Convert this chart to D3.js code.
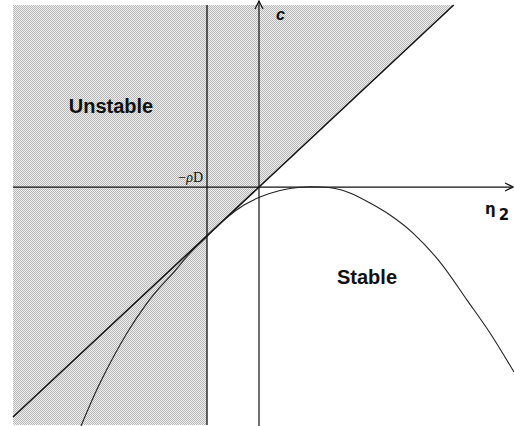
<!DOCTYPE html>
<html>
<head>
<meta charset="utf-8">
<script src="https://cdn.jsdelivr.net/npm/d3@7"></script>
<style>
  html, body { margin: 0; padding: 0; background: #fff; }
  svg { display: block; }
</style>
</head>
<body>
<script>
// Stability boundary in the (eta2, c) plane
const curveEta = [-1.78, -1.59, -1.32, -1.12, -0.99, -0.86, -0.69, -0.52, -0.32, -0.15, 0.01, 0.21, 0.41, 0.61, 0.76, 0.91, 1.11, 1.31, 1.54, 1.81, 2.08, 2.31, 2.55];
const curveC   = [-2.556, -2.096, -1.561, -1.241, -1.070, -0.920, -0.706, -0.529, -0.326, -0.193, -0.107, -0.037, -0.002, 0.0, -0.016, -0.064, -0.171, -0.299, -0.492, -0.802, -1.209, -1.561, -1.979];
// neutral line c = eta2
const lineEta = [-2.46, 1.947];
const lineC   = [-2.46, 1.947];
// vertical line at eta2 = -rhoD
const rhoD = 0.52;
const regionLabels = ["Unstable", "Stable"];

const W = 514, H = 426;
const x = d3.scaleLinear().domain([-2.46, 2.55]).range([13, 514]);
const y = d3.scaleLinear().domain([1.947, -2.545]).range([5, 425]);

const svg = d3.select("body").append("svg").attr("width", W).attr("height", H);

// halftone-like fill
const defs = svg.append("defs");
const pat = defs.append("pattern").attr("id", "dots")
  .attr("width", 2).attr("height", 2).attr("patternUnits", "userSpaceOnUse");
pat.append("rect").attr("width", 2).attr("height", 2).attr("fill", "#f0f0f0");
pat.append("rect").attr("x", 0).attr("y", 0).attr("width", 1).attr("height", 1).attr("fill", "#b6b6b6");
pat.append("rect").attr("x", 1).attr("y", 1).attr("width", 1).attr("height", 1).attr("fill", "#b6b6b6");

const [xMin, xMax] = x.domain();
const [yTop, yBot] = y.domain();

// unstable region: left of -rhoD, and above the neutral line
const region = [
  [xMin, yTop],
  [lineEta[1], lineC[1]],
  [-rhoD, -rhoD],
  [-rhoD, yBot],
  [xMin, yBot]
];
svg.append("path")
  .attr("d", d3.line().x(d => x(d[0])).y(d => y(d[1]))(region) + "Z")
  .attr("fill", "url(#dots)").attr("shape-rendering", "crispEdges");

// axes
svg.append("line")
  .attr("x1", x(xMin)).attr("x2", 512).attr("y1", y(0)).attr("y2", y(0))
  .attr("stroke", "#111").attr("stroke-width", 1.2);
svg.append("line")
  .attr("x1", x(0)).attr("x2", x(0)).attr("y1", 426).attr("y2", 1)
  .attr("stroke", "#111").attr("stroke-width", 1.2);
// arrowheads
svg.append("path")
  .attr("d", `M${x(0) - 4},${9} L${x(0)},${1} L${x(0) + 4},${9}`)
  .attr("fill", "none").attr("stroke", "#111").attr("stroke-width", 1.2);
svg.append("path")
  .attr("d", `M${505},${y(0) - 4} L${513},${y(0)} L${505},${y(0) + 4}`)
  .attr("fill", "none").attr("stroke", "#111").attr("stroke-width", 1.2);

// -rhoD line
svg.append("line")
  .attr("x1", x(-rhoD)).attr("x2", x(-rhoD)).attr("y1", y(yTop)).attr("y2", y(yBot))
  .attr("stroke", "#111").attr("stroke-width", 1.3);

// neutral line
svg.append("path")
  .attr("d", d3.line().x((d, i) => x(d)).y((d, i) => y(lineC[i]))(lineEta))
  .attr("fill", "none").attr("stroke", "#111").attr("stroke-width", 1.5);

// stability curve
svg.append("path")
  .attr("d", d3.line().curve(d3.curveCatmullRom).x(d => x(d)).y((d, i) => y(curveC[i]))(curveEta))
  .attr("fill", "none").attr("stroke", "#222").attr("stroke-width", 1.1);

// labels
svg.append("text").attr("x", 111).attr("y", 113).attr("text-anchor", "middle")
  .attr("font-family", "Liberation Sans, Arial, sans-serif").attr("font-weight", "bold")
  .attr("font-size", 20).attr("fill", "#111").text(regionLabels[0]);
svg.append("text").attr("x", 367).attr("y", 284).attr("text-anchor", "middle")
  .attr("font-family", "Liberation Sans, Arial, sans-serif").attr("font-weight", "bold")
  .attr("font-size", 20).attr("fill", "#111").text(regionLabels[1]);

svg.append("text").attr("x", 276).attr("y", 20)
  .attr("font-family", "Liberation Sans, Arial, sans-serif").attr("font-weight", "bold")
  .attr("font-style", "italic").attr("font-size", 16).attr("fill", "#111").text("c");

const eta = svg.append("text").attr("x", 485).attr("y", 214)
  .attr("font-family", "DejaVu Sans, sans-serif").attr("font-weight", "bold")
  .attr("font-size", 15).attr("fill", "#111");
eta.append("tspan").text("η");
eta.append("tspan").attr("dx", 3).attr("dy", 6).attr("font-size", 15).text("2");

const rl = svg.append("text").attr("x", 203).attr("y", 182).attr("text-anchor", "end")
  .attr("font-family", "Liberation Serif, Times New Roman, serif")
  .attr("font-size", 14).attr("fill", "#111");
rl.append("tspan").text("−");
rl.append("tspan").attr("font-style", "italic").text("ρ");
rl.append("tspan").text("D");
</script>
</body>
</html>
